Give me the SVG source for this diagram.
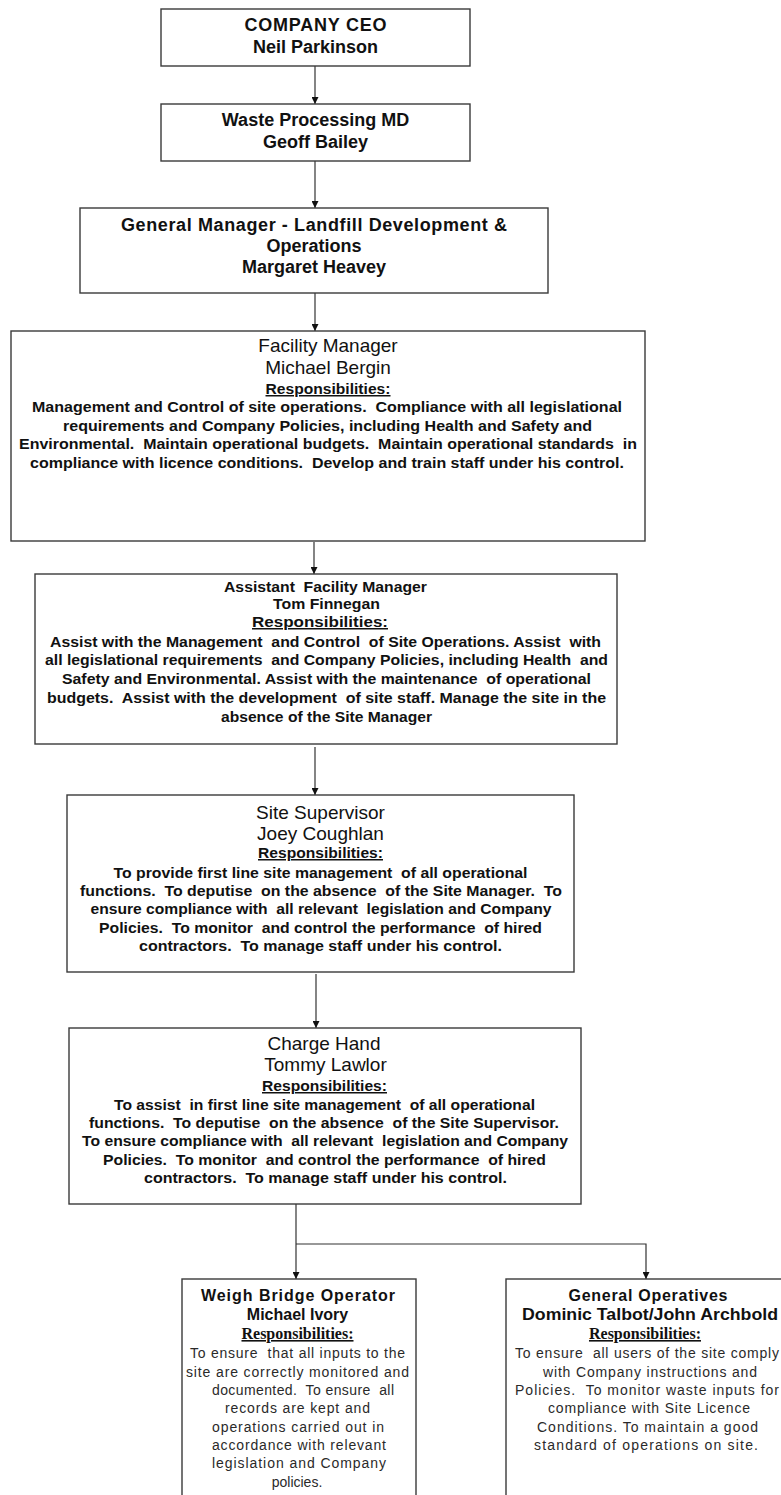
<svg xmlns="http://www.w3.org/2000/svg" width="781" height="1495" viewBox="0 0 781 1495" xml:space="preserve">
<style>
.box{fill:#fff;stroke:#3a3a3a;stroke-width:1.4}
.con{fill:none;stroke:#333;stroke-width:1.2}
text{fill:#111;text-anchor:middle;font-family:"Liberation Sans",Arial,sans-serif;white-space:pre}
.t1{font-weight:bold;font-size:18px}
.t2{font-size:19px}
.nb{font-weight:bold;font-size:15px}
.u{text-decoration:underline}
.wt{font-weight:bold;font-size:16px}
.wr{font-family:"Liberation Serif","Times New Roman",serif;font-weight:bold;font-size:16px;text-decoration:underline}
.wb{font-size:14px;fill:#2a2a2a}
</style>
<defs>
<marker id="arr" viewBox="0 0 8 8" refX="8" refY="4" markerWidth="7" markerHeight="7" markerUnits="userSpaceOnUse" orient="auto"><path d="M0,0 L8,4 L0,8 z" fill="#111"/></marker>
</defs>
<g id="connectors">
<path class="con" d="M315,66 V104" marker-end="url(#arr)"/>
<path class="con" d="M315,161 V208" marker-end="url(#arr)"/>
<path class="con" d="M315,293 V331" marker-end="url(#arr)"/>
<path class="con" d="M314,542 V574" marker-end="url(#arr)"/>
<path class="con" d="M315,747 V795" marker-end="url(#arr)"/>
<path class="con" d="M316,974 V1028" marker-end="url(#arr)"/>
<path class="con" d="M296,1204 V1279" marker-end="url(#arr)"/>
<path class="con" d="M296,1244 H646 V1279" marker-end="url(#arr)"/>
</g>
<g id="ceo">
<rect class="box" x="161" y="9" width="309" height="57"/>
<text class="t1" x="315.5" y="31" textLength="142">COMPANY CEO</text>
<text class="t1" x="315.5" y="53">Neil Parkinson</text>
</g>
<g id="md">
<rect class="box" x="161" y="104" width="309" height="57"/>
<text class="t1" x="315.5" y="126">Waste Processing MD</text>
<text class="t1" x="315.5" y="148">Geoff Bailey</text>
</g>
<g id="gm">
<rect class="box" x="80" y="208" width="468" height="85"/>
<text class="t1" x="314" y="231" textLength="386">General Manager - Landfill Development &amp;</text>
<text class="t1" x="314" y="252">Operations</text>
<text class="t1" x="314" y="273">Margaret Heavey</text>
</g>
<g id="facility">
<rect class="box" x="11" y="331" width="634" height="210"/>
<text class="t2" x="328" y="352">Facility Manager</text>
<text class="t2" x="328" y="374">Michael Bergin</text>
<text class="nb u" x="328" y="394" textLength="125" lengthAdjust="spacingAndGlyphs">Responsibilities:</text>
<text class="nb" x="327" y="412" textLength="590" lengthAdjust="spacingAndGlyphs">Management and Control of site operations.  Compliance with all legislational</text>
<text class="nb" x="327.5" y="431" textLength="529" lengthAdjust="spacingAndGlyphs">requirements and Company Policies, including Health and Safety and</text>
<text class="nb" x="328" y="449" textLength="618" lengthAdjust="spacingAndGlyphs">Environmental.  Maintain operational budgets.  Maintain operational standards  in</text>
<text class="nb" x="327" y="468" textLength="594" lengthAdjust="spacingAndGlyphs">compliance with licence conditions.  Develop and train staff under his control.</text>
</g>
<g id="assistant">
<rect class="box" x="35" y="574" width="582" height="170"/>
<text class="nb" x="325.5" y="592" textLength="203" lengthAdjust="spacingAndGlyphs">Assistant  Facility Manager</text>
<text class="nb" x="326.5" y="609" textLength="107" lengthAdjust="spacingAndGlyphs">Tom Finnegan</text>
<text class="nb u" x="320" y="627" textLength="136" lengthAdjust="spacingAndGlyphs">Responsibilities:</text>
<text class="nb" x="325.5" y="647" textLength="551" lengthAdjust="spacingAndGlyphs">Assist with the Management  and Control  of Site Operations. Assist  with</text>
<text class="nb" x="326.5" y="665" textLength="563" lengthAdjust="spacingAndGlyphs">all legislational requirements  and Company Policies, including Health  and</text>
<text class="nb" x="326.5" y="684" textLength="529" lengthAdjust="spacingAndGlyphs">Safety and Environmental. Assist with the maintenance  of operational</text>
<text class="nb" x="326.5" y="703" textLength="559" lengthAdjust="spacingAndGlyphs">budgets.  Assist with the development  of site staff. Manage the site in the</text>
<text class="nb" x="326.5" y="722" textLength="211" lengthAdjust="spacingAndGlyphs">absence of the Site Manager</text>
</g>
<g id="site-supervisor">
<rect class="box" x="67" y="795" width="507" height="177"/>
<text class="t2" x="320.5" y="819">Site Supervisor</text>
<text class="t2" x="320.5" y="840">Joey Coughlan</text>
<text class="nb u" x="320.5" y="858" textLength="125" lengthAdjust="spacingAndGlyphs">Responsibilities:</text>
<text class="nb" x="320.5" y="878" textLength="414" lengthAdjust="spacingAndGlyphs">To provide first line site management  of all operational</text>
<text class="nb" x="321" y="896" textLength="482" lengthAdjust="spacingAndGlyphs">functions.  To deputise  on the absence  of the Site Manager.  To</text>
<text class="nb" x="321" y="914" textLength="461" lengthAdjust="spacingAndGlyphs">ensure compliance with  all relevant  legislation and Company</text>
<text class="nb" x="320.5" y="933" textLength="443" lengthAdjust="spacingAndGlyphs">Policies.  To monitor  and control the performance  of hired</text>
<text class="nb" x="320.5" y="951" textLength="363" lengthAdjust="spacingAndGlyphs">contractors.  To manage staff under his control.</text>
</g>
<g id="charge-hand">
<rect class="box" x="69" y="1028" width="512" height="176"/>
<text class="t2" x="324" y="1050">Charge Hand</text>
<text class="t2" x="325.5" y="1071">Tommy Lawlor</text>
<text class="nb u" x="324.5" y="1091" textLength="125" lengthAdjust="spacingAndGlyphs">Responsibilities:</text>
<text class="nb" x="324.5" y="1110" textLength="421" lengthAdjust="spacingAndGlyphs">To assist  in first line site management  of all operational</text>
<text class="nb" x="324" y="1128" textLength="470" lengthAdjust="spacingAndGlyphs">functions.  To deputise  on the absence  of the Site Supervisor.</text>
<text class="nb" x="325" y="1146" textLength="486" lengthAdjust="spacingAndGlyphs">To ensure compliance with  all relevant  legislation and Company</text>
<text class="nb" x="324.5" y="1165" textLength="443" lengthAdjust="spacingAndGlyphs">Policies.  To monitor  and control the performance  of hired</text>
<text class="nb" x="325.5" y="1183" textLength="363" lengthAdjust="spacingAndGlyphs">contractors.  To manage staff under his control.</text>
</g>
<g id="weigh-bridge">
<rect class="box" x="182" y="1279" width="234" height="230"/>
<text class="wt" x="298" y="1301" textLength="194">Weigh Bridge Operator</text>
<text class="wt" x="297.5" y="1320">Michael Ivory</text>
<text class="wr" x="297.5" y="1339">Responsibilities:</text>
<text class="wb" x="297.5" y="1358" textLength="215">To ensure  that all inputs to the</text>
<text class="wb" x="297.5" y="1377" textLength="223">site are correctly monitored and</text>
<text class="wb" x="303" y="1395" textLength="182">documented.  To ensure  all</text>
<text class="wb" x="297.5" y="1413" textLength="145">records are kept and</text>
<text class="wb" x="298" y="1432" textLength="172">operations carried out in</text>
<text class="wb" x="299" y="1450" textLength="174">accordance with relevant</text>
<text class="wb" x="299" y="1468" textLength="174">legislation and Company</text>
<text class="wb" x="297" y="1487">policies.</text>
</g>
<g id="general-operatives">
<rect class="box" x="506" y="1279" width="300" height="230"/>
<text class="wt" x="648" y="1301" textLength="159">General Operatives</text>
<text class="wt" x="650" y="1320" textLength="256" lengthAdjust="spacingAndGlyphs">Dominic Talbot/John Archbold</text>
<text class="wr" x="645" y="1339">Responsibilities:</text>
<text class="wb" x="647" y="1358" textLength="264">To ensure  all users of the site comply</text>
<text class="wb" x="650" y="1377" textLength="214">with Company instructions and</text>
<text class="wb" x="647" y="1395" textLength="264">Policies.  To monitor waste inputs for</text>
<text class="wb" x="649" y="1413" textLength="202">compliance with Site Licence</text>
<text class="wb" x="647.5" y="1432" textLength="221">Conditions. To maintain a good</text>
<text class="wb" x="646" y="1450" textLength="224">standard of operations on site.</text>
</g>
</svg>
